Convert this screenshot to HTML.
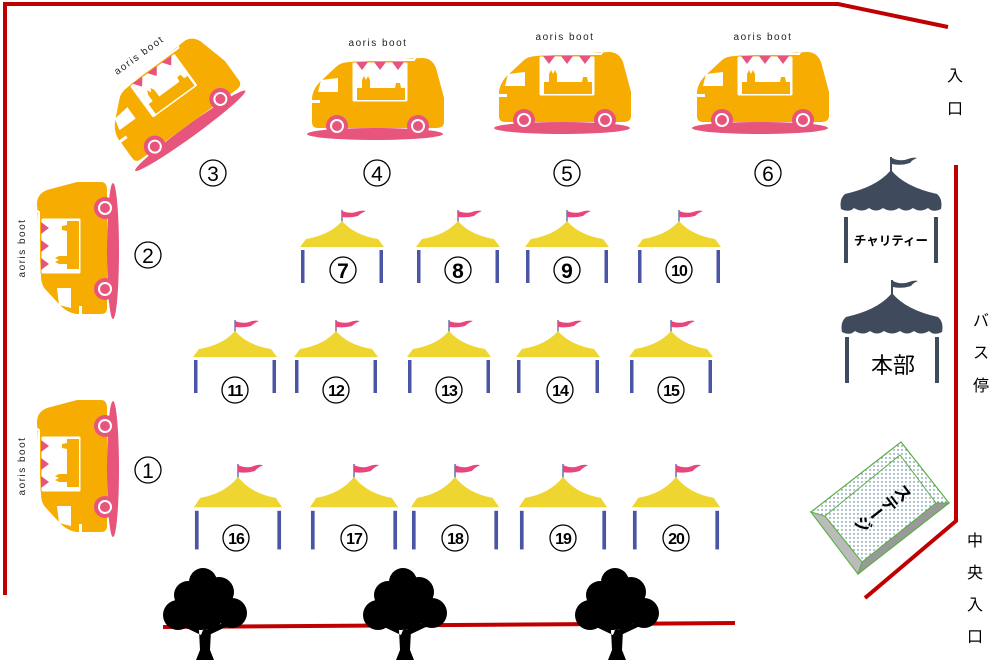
<!DOCTYPE html>
<html><head><meta charset="utf-8"><style>
html,body{margin:0;padding:0;background:#fff;}
svg{display:block;}
text{font-family:"Liberation Sans","Noto Sans CJK JP",sans-serif;}
</style></head><body>
<svg width="1000" height="668" viewBox="0 0 1000 668" xmlns="http://www.w3.org/2000/svg">
<defs>
<g id="truck">
  <text x="378" y="46" font-size="10" text-anchor="middle" letter-spacing="1.5" fill="#222">aoris boot</text>
  <ellipse cx="375" cy="134" rx="68" ry="6" fill="#E8557C"/>
  <path d="M312,122 L312,98 Q313,88 322,80 L336,67 Q341,62 350,62 L422,58 Q432,58 436,68 L444,98 L444,122 Q444,128 436,128 L318,128 Q312,128 312,122 Z" fill="#F6AC00"/>
  <path d="M321,80 L338,78 L338,92 L318,92 Z" fill="#fff"/>
  <rect x="312" y="100" width="8" height="3" fill="#fff"/>
  <path d="M343,53 L418,53 L414,60 L347,60 Z" fill="none" stroke="#fff" stroke-width="2"/>
  <rect x="352" y="62" width="56" height="40" rx="2" fill="#fff" stroke="#F6AC00" stroke-width="1"/>
  <path d="M356,62 L362,70 L368,62 Z M374,62 L380,70 L386,62 Z M392,62 L398,70 L404,62 Z" fill="#E8557C"/>
  <path d="M357,100 L357,88 L362,88 L362,80 L364,76 L366,80 L368,76 L370,80 L370,88 L395,88 L396,83 L400,83 L401,88 L405,88 L405,100 Z" fill="#F6AC00"/>
  <circle cx="337" cy="126" r="11" fill="#E8557C"/><circle cx="337" cy="126" r="7" fill="#fff"/><circle cx="337" cy="126" r="5" fill="#E8557C"/>
  <circle cx="418" cy="126" r="11" fill="#E8557C"/><circle cx="418" cy="126" r="7" fill="#fff"/><circle cx="418" cy="126" r="5" fill="#E8557C"/>
</g>
<g id="tent">
  <rect x="-0.6" y="0" width="1.2" height="12" fill="#4a55a0"/>
  <path d="M0,1 Q8,4 14,2 Q19,0 24,1 Q19,3 16,6 Q9,8 0,7 Z" fill="#E8457C"/>
  <path d="M0,11 Q-12,25 -36,29 L-42,37 L42,37 L36,29 Q12,25 0,11 Z" fill="#EED52F"/>
  <rect x="-41" y="40" width="3.5" height="33" fill="#4A55A5"/>
  <rect x="37.5" y="40" width="3.5" height="33" fill="#4A55A5"/>
</g>
<g id="dtent">
  <rect x="-1" y="0" width="2" height="14" fill="#3F4A5C"/>
  <path d="M1,1 Q9,5 17,2 Q22,0 26,1 Q21,3 19,6 Q10,9 1,7 Z" fill="#3F4A5C"/>
  <path d="M0,13 Q-14,30 -46,37 Q-52,42 -50,52 Q-42,56 -37,51 Q-29,56 -22,51 Q-15,56 -8,51 Q0,56 8,51 Q15,56 22,51 Q29,56 37,51 Q42,56 50,52 Q52,42 46,37 Q14,30 0,13 Z" fill="#3F4A5C"/>
</g>
<g id="tree">
  <path d="M-6,40 L-5,60 L-9,70 L9,70 L5,60 L6,40 Z M-4,45 L-25,35 L-20,32 L-2,40 Z M4,45 L25,35 L20,32 L2,40 Z" fill="#000"/>
  <circle cx="-2" cy="-8" r="14" fill="#000"/>
  <circle cx="-17" cy="5" r="14" fill="#000"/>
  <circle cx="14" cy="2" r="15" fill="#000"/>
  <circle cx="-27" cy="25" r="15" fill="#000"/>
  <circle cx="27" cy="23" r="15" fill="#000"/>
  <circle cx="0" cy="18" r="22" fill="#000"/>
</g>
</defs>

<g stroke="#C00000" stroke-width="4" fill="none">
  <path d="M5,595 L5,4 L838,4 L948,27"/>
  <path d="M956,165 L956,521 L865,598"/>
  <path d="M163,627 L735,623"/>
</g>

<use href="#truck"/>
<use href="#truck" transform="translate(187,-6)"/>
<use href="#truck" transform="translate(385,-6)"/>
<use href="#truck" transform="translate(168,95) rotate(-36) translate(-378,-92)"/>
<use href="#truck" transform="translate(71,248) rotate(-90) translate(-378,-92)"/>
<use href="#truck" transform="translate(71,466) rotate(-90) translate(-378,-92)"/>

<use href="#tent" transform="translate(342,210)"/>
<use href="#tent" transform="translate(458,210)"/>
<use href="#tent" transform="translate(567,210)"/>
<use href="#tent" transform="translate(679,210)"/>
<use href="#tent" transform="translate(235,320)"/>
<use href="#tent" transform="translate(336,320)"/>
<use href="#tent" transform="translate(449,320)"/>
<use href="#tent" transform="translate(558,320)"/>
<use href="#tent" transform="translate(671,320)"/>
<use href="#tent" transform="translate(238,464) scale(1.05,1.17)"/>
<use href="#tent" transform="translate(354,464) scale(1.05,1.17)"/>
<use href="#tent" transform="translate(455,464) scale(1.05,1.17)"/>
<use href="#tent" transform="translate(563,464) scale(1.05,1.17)"/>
<use href="#tent" transform="translate(676,464) scale(1.05,1.17)"/>

<g fill="none" stroke="#000" stroke-width="1.3">
  <circle cx="148" cy="470" r="13"/><circle cx="148" cy="255" r="13"/>
  <circle cx="213" cy="173" r="13"/><circle cx="377" cy="173" r="13"/>
  <circle cx="567" cy="173" r="13"/><circle cx="768" cy="173" r="13"/>
  <circle cx="343" cy="270" r="13"/><circle cx="458" cy="270" r="13"/><circle cx="567" cy="270" r="13"/><circle cx="679" cy="270" r="13"/>
  <circle cx="235" cy="390" r="13"/><circle cx="336" cy="390" r="13"/><circle cx="449" cy="390" r="13"/><circle cx="560" cy="390" r="13"/><circle cx="671" cy="390" r="13"/>
  <circle cx="236" cy="538" r="13"/><circle cx="354" cy="538" r="13"/><circle cx="455" cy="538" r="13"/><circle cx="563" cy="538" r="13"/><circle cx="676" cy="538" r="13"/>
</g>
<g font-size="21" text-anchor="middle" fill="#000">
  <text x="148" y="478">1</text><text x="148" y="263">2</text>
  <text x="213" y="181">3</text><text x="377" y="181">4</text>
  <text x="567" y="181">5</text><text x="768" y="181">6</text>
</g>
<g font-size="21" font-weight="bold" text-anchor="middle" fill="#000">
  <text x="343" y="278">7</text><text x="458" y="278">8</text><text x="567" y="278">9</text>
</g>
<g font-size="16" font-weight="bold" text-anchor="middle" fill="#000" letter-spacing="-1">
  <text x="679" y="276">10</text>
  <text x="235" y="396">11</text><text x="336" y="396">12</text><text x="449" y="396">13</text><text x="560" y="396">14</text><text x="671" y="396">15</text>
  <text x="236" y="544">16</text><text x="354" y="544">17</text><text x="455" y="544">18</text><text x="563" y="544">19</text><text x="676" y="544">20</text>
</g>

<use href="#dtent" transform="translate(891,157)"/>
<rect x="844" y="217" width="4" height="46" fill="#3F4A5C"/>
<rect x="934" y="217" width="4" height="46" fill="#3F4A5C"/>
<text x="891" y="245" font-size="12.5" font-weight="bold" text-anchor="middle" fill="#000">チャリティー</text>
<use href="#dtent" transform="translate(892,280)"/>
<rect x="845" y="337" width="4" height="46" fill="#3F4A5C"/>
<rect x="935" y="337" width="4" height="46" fill="#3F4A5C"/>
<text x="893" y="373" font-size="22" text-anchor="middle" fill="#000">本部</text>

<defs><pattern id="dots" width="4" height="4" patternUnits="userSpaceOnUse"><rect width="4" height="4" fill="#fff"/><circle cx="2" cy="2" r="0.7" fill="#3a6a8a"/></pattern></defs>
<polygon points="811,512 901,442 949,503 858,574" fill="url(#dots)" stroke="#5BB043" stroke-width="1.2"/>
<polygon points="811,512 825,516 862,562 858,574" fill="#bbb" stroke="#5BB043" stroke-width="1"/>
<polygon points="858,574 862,562 936,503 949,503" fill="#999" stroke="#5BB043" stroke-width="1"/>
<polygon points="825,516 900,455 936,503 862,562" fill="url(#dots)" stroke="#5BB043" stroke-width="1"/>
<text x="0" y="0" font-size="17" font-weight="bold" text-anchor="middle" fill="#000" transform="translate(882,507) rotate(52)" writing-mode="tb">ステージ</text>

<use href="#tree" transform="translate(205,590)"/>
<use href="#tree" transform="translate(405,590)"/>
<use href="#tree" transform="translate(617,590)"/>

<g font-size="16" text-anchor="middle" fill="#000">
  <text x="955" y="81">入</text><text x="955" y="114">口</text>
  <text x="981" y="326">バ</text><text x="981" y="358">ス</text><text x="981" y="391">停</text>
  <text x="975" y="546">中</text><text x="975" y="578">央</text><text x="975" y="610">入</text><text x="975" y="642">口</text>
</g>
</svg>
</body></html>
